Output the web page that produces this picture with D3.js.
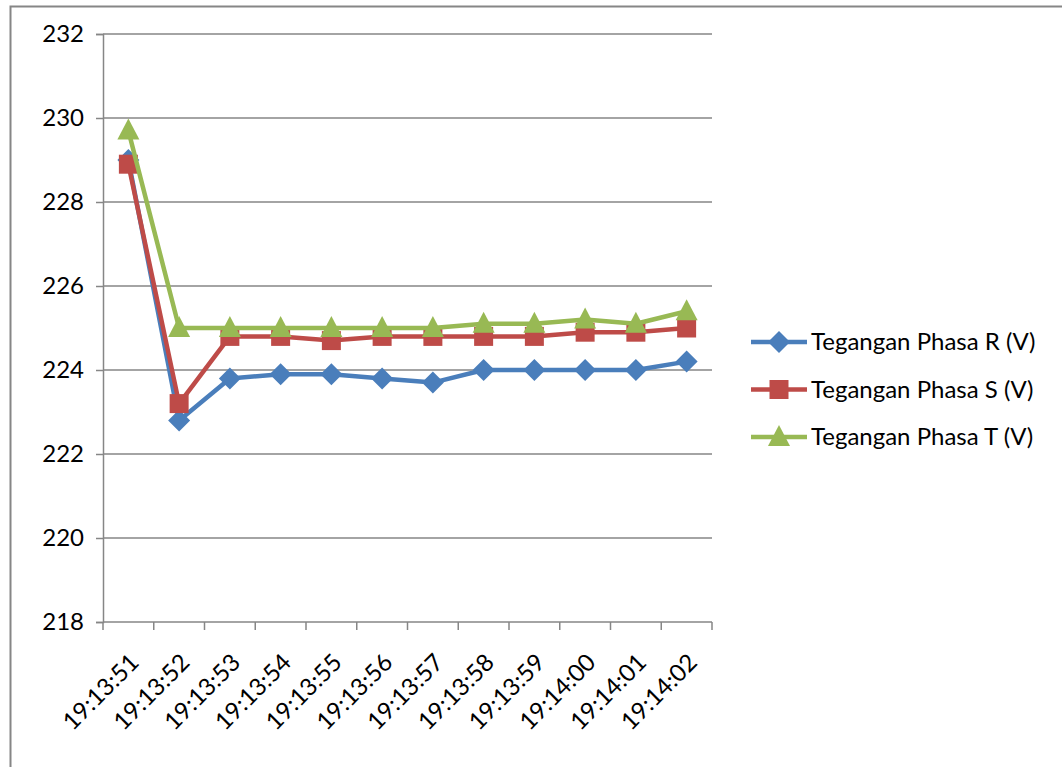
<!DOCTYPE html>
<html>
<head>
<meta charset="utf-8">
<script src="https://cdn.jsdelivr.net/npm/d3@7/dist/d3.min.js"></script>
<style>
  html, body { margin: 0; padding: 0; background: #fff; }
  svg { display: block; font-family: Lato, "Open Sans", sans-serif; }
</style>
</head>
<body>
<svg id="chart" width="1062" height="767"></svg>
<script>
// Time stamps on the x axis
const categories = ["19:13:51","19:13:52","19:13:53","19:13:54","19:13:55","19:13:56",
                    "19:13:57","19:13:58","19:13:59","19:14:00","19:14:01","19:14:02"];
// Phase voltages (V)
const phaseR = [229.0, 222.8, 223.8, 223.9, 223.9, 223.8, 223.7, 224.0, 224.0, 224.0, 224.0, 224.2];
const phaseS = [228.9, 223.2, 224.8, 224.8, 224.7, 224.8, 224.8, 224.8, 224.8, 224.9, 224.9, 225.0];
const phaseT = [229.7, 225.0, 225.0, 225.0, 225.0, 225.0, 225.0, 225.1, 225.1, 225.2, 225.1, 225.4];
const seriesNames = ["Tegangan Phasa R (V)", "Tegangan Phasa S (V)", "Tegangan Phasa T (V)"];
const yTicks = [218, 220, 222, 224, 226, 228, 230, 232];

const series = [
  { name: seriesNames[0], values: phaseR, color: "#4A7EBB", marker: "diamond" },
  { name: seriesNames[1], values: phaseS, color: "#BE4B48", marker: "square" },
  { name: seriesNames[2], values: phaseT, color: "#98B954", marker: "triangle" }
];

const FONT = 24;
const svg = d3.select("#chart");
const plot = { left: 103, right: 712, top: 34, bottom: 622 };

// Outer chart frame
svg.append("rect")
  .attr("x", 10.5).attr("y", 6.5).attr("width", 1070).attr("height", 780)
  .attr("fill", "none").attr("stroke", "#868686").attr("stroke-width", 2);

const x = d3.scaleBand().domain(categories).range([plot.left, plot.right]);
const y = d3.scaleLinear().domain([218, 232]).range([plot.bottom, plot.top]);

// Horizontal gridlines
svg.append("g").selectAll("line").data(yTicks.filter(d => d !== 218)).join("line")
  .attr("x1", plot.left).attr("x2", plot.right)
  .attr("y1", d => y(d)).attr("y2", d => y(d))
  .attr("stroke", "#868686").attr("stroke-width", 1.5);

// Y axis
const yAxis = svg.append("g").attr("transform", `translate(${plot.left},0)`)
  .call(d3.axisLeft(y).tickValues(yTicks).tickSize(7).tickPadding(12).tickFormat(d3.format("d")));
yAxis.select(".domain").attr("stroke", "#868686").attr("stroke-width", 1.5);
yAxis.selectAll(".tick line").attr("stroke", "#868686").attr("stroke-width", 1.5);
yAxis.selectAll(".tick text").attr("font-size", FONT).attr("fill", "#000")
  .attr("font-family", "Lato, 'Open Sans', sans-serif");

// X axis: ticks at category boundaries, labels rotated
const xg = svg.append("g").attr("transform", `translate(0,${plot.bottom})`);
xg.append("line").attr("x1", plot.left).attr("x2", plot.right)
  .attr("stroke", "#868686").attr("stroke-width", 1.5);
const boundaries = categories.map(c => x(c)).concat([plot.right]);
xg.selectAll("line.tk").data(boundaries).join("line").attr("class", "tk")
  .attr("x1", d => d).attr("x2", d => d).attr("y1", 0).attr("y2", 8)
  .attr("stroke", "#868686").attr("stroke-width", 1.5);
xg.selectAll("text").data(categories).join("text")
  .attr("transform", d => `translate(${x(d) + x.bandwidth() / 2 + 6},${36}) rotate(-45)`)
  .attr("text-anchor", "end").attr("dy", "0.35em")
  .attr("font-size", FONT).attr("fill", "#000")
  .text(d => d);

function markerPath(type) {
  if (type === "diamond") return "M0,-11L11,0L0,11L-11,0Z";
  if (type === "square") return "M-9.5,-9.5H9.5V9.5H-9.5Z";
  return "M0,-12L11,9H-11Z";
}

const line = d3.line().x((d, i) => x(categories[i]) + x.bandwidth() / 2).y(d => y(d));

series.forEach(s => {
  const g = svg.append("g");
  g.append("path").datum(s.values).attr("d", line)
    .attr("fill", "none").attr("stroke", s.color).attr("stroke-width", 4.5)
    .attr("stroke-linejoin", "round");
  g.selectAll("path.m").data(s.values).join("path").attr("class", "m")
    .attr("transform", (d, i) => `translate(${x(categories[i]) + x.bandwidth() / 2},${y(d)})`)
    .attr("d", markerPath(s.marker)).attr("fill", s.color);
});

// Legend
const legend = svg.append("g").attr("transform", "translate(751,342)");
series.forEach((s, i) => {
  const row = legend.append("g").attr("transform", `translate(0,${i * 47.5})`);
  row.append("line").attr("x1", 0).attr("x2", 56).attr("stroke", s.color).attr("stroke-width", 4.5);
  row.append("path").attr("transform", "translate(28,0)").attr("d", markerPath(s.marker)).attr("fill", s.color);
  row.append("text").attr("x", 60).attr("dy", "0.35em").attr("font-size", FONT).attr("fill", "#000").text(s.name);
});
</script>
</body>
</html>
